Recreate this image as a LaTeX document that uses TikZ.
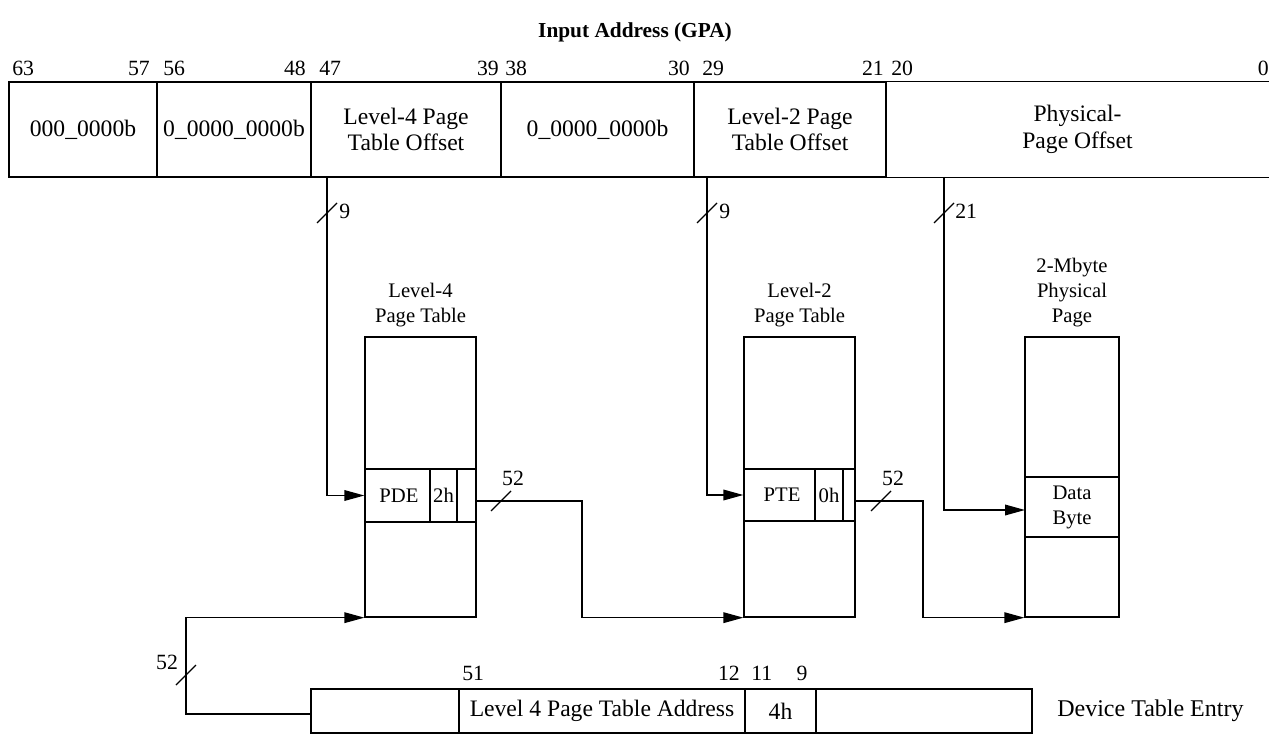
\documentclass[tikz,border=0pt]{standalone}
\usepackage{fontspec}
\setmainfont{Liberation Serif}
\usetikzlibrary{arrows.meta}
\newcommand\cellbox[7][]{%
  \pgfmathsetmacro\cbxx{(#3+#5)/2}\pgfmathsetmacro\cbxy{(#4+#6)/2}%
  \pgfmathsetmacro\cbxw{(#5-#3)*0.75}\pgfmathsetmacro\cbxh{(#6-#4)*0.75}%
  \node[cell,minimum width=\cbxw pt,minimum height=\cbxh pt,#1] (#2) at (\cbxx,\cbxy) {#7};%
}
\begin{document}
\begin{tikzpicture}[x=0.75pt,y=-0.75pt,
  plain/.style={line width=1pt},
  conn/.style={line width=1pt,-{Triangle[length=15pt,width=8pt]}},
  cell/.style={draw,line width=1pt,inner sep=0pt,align=center},
  big/.style={font=\fontsize{17.7}{20}\selectfont},
  mid/.style={font=\fontsize{15.5}{18.75}\selectfont},
  bitn/.style={font=\fontsize{16.3}{19}\selectfont,inner sep=0pt},
  lbl/.style={inner sep=0pt,align=center}]
\useasboundingbox (0,0) rectangle (1269,734);

% title
\node[lbl,font=\fontsize{16}{19}\selectfont\bfseries] (title) at (635,32) {Input Address (GPA)};

% top bar
\cellbox[big]{c1}{9}{82}{157}{177}{000\_0000b}
\cellbox[big]{c2}{157}{82}{311}{177}{0\_0000\_0000b}
\cellbox[big]{c3}{311}{82}{501}{177}{Level-4 Page\\Table Offset}
\cellbox[big]{c4}{501}{82}{694}{177}{0\_0000\_0000b}
\cellbox[big]{c5}{694}{82}{886}{177}{Level-2 Page\\Table Offset}
\cellbox[big,draw=none]{c6}{886}{82}{1269}{177}{Physical-\\Page Offset}
\draw[plain] (c6.north west) -- (c6.north east) (c6.south west) -- (c6.south east);

% bit numbers
\node[bitn,anchor=west] (b63) at (12,68) {63};
\node[bitn,anchor=east] (b57) at (150,68) {57};
\node[bitn,anchor=west] (b56) at (163,68) {56};
\node[bitn,anchor=east] (b48) at (306,68) {48};
\node[bitn,anchor=west] (b47) at (319,68) {47};
\node[bitn,anchor=east] (b39) at (499,68) {39};
\node[bitn,anchor=west] (b38) at (505,68) {38};
\node[bitn,anchor=east] (b30) at (690,68) {30};
\node[bitn,anchor=west] (b29) at (702,68) {29};
\node[bitn,anchor=east] (b21) at (884,68) {21};
\node[bitn,anchor=west] (b20) at (891,68) {20};
\node[bitn,anchor=east] (b0) at (1269,68) {0};

% level-4 table
\node[lbl,mid] (l4t) at (420.5,305) {Level-4\\Page Table};
\cellbox{l4}{365}{337}{476}{617}{}
\cellbox{pde}{365}{469}{476}{522}{}
\draw[plain] (430,469) -- (430,522) (457,469) -- (457,522);
\node[lbl,mid] (pdet) at (399,495.5) {PDE};
\node[lbl,mid] (pdeh) at (443.5,495.5) {2h};

% level-2 table
\node[lbl,mid] (l2t) at (799.5,305) {Level-2\\Page Table};
\cellbox{l2}{744}{337}{855}{617}{}
\cellbox{pte}{744}{469}{855}{521}{}
\draw[plain] (815,469) -- (815,521) (843,469) -- (843,521);
\node[lbl,mid] (ptet) at (782,495) {PTE};
\node[lbl,mid] (pteh) at (829,495) {0h};

% physical page
\node[lbl,mid] (ppt) at (1072,293) {2-Mbyte\\Physical\\Page};
\cellbox{pp}{1025}{337}{1119}{617}{}
\cellbox[mid]{db}{1025}{477}{1119}{537}{Data\\Byte}

% device table entry
\cellbox{d1}{311}{689}{459}{733}{}
\cellbox[big]{d2}{459}{689}{745}{733}{Level 4 Page Table Address}
\cellbox[big]{d3}{745}{689}{816}{733}{4h}
\cellbox{d4}{816}{689}{1032}{733}{}
\node[lbl,font=\fontsize{18}{21}\selectfont,anchor=west] (dte) at (1057,711) {Device Table Entry};
\node[bitn,anchor=west] (n51) at (462,673) {51};
\node[bitn,anchor=east] (n12) at (740,673) {12};
\node[bitn,anchor=west] (n11) at (751,673) {11};
\node[bitn] (n9) at (802,673) {9};

% connector coordinates
\coordinate (s4) at (327,177);
\coordinate (s2) at (707,177);
\coordinate (sp) at (944,177);
\coordinate (o4) at (476,501);
\coordinate (o2) at (855,501);
\coordinate (k4) at (582,501);
\coordinate (k2) at (923,501);
\coordinate (dl) at (311,714);
\coordinate (kd) at (186,714);

% connectors
\draw[conn] (s4) |- (pde.west);
\draw[conn] (s2) |- (pte.west);
\draw[conn] (sp) |- (1025,510);
\draw[conn] (o4) -- (k4) |- (l2.south west);
\draw[conn] (o2) -- (k2) |- (pp.south west);
\draw[conn] (dl) -- (kd) |- (l4.south west);

% slashes and widths
\coordinate (m1) at (327,213);
\coordinate (m2) at (707,213);
\coordinate (m3) at (944,213);
\coordinate (m4) at (501,501);
\coordinate (m5) at (881,501);
\coordinate (m6) at (186,675);
\foreach \m in {m1,m2,m3,m4,m5,m6}
  \draw[plain] (\m) ++(-10,10) -- ++(20,-20);
\node[bitn,anchor=west] (w1) at (339,211) {9};
\node[bitn,anchor=west] (w2) at (719,211) {9};
\node[bitn,anchor=west] (w3) at (955,211) {21};
\node[bitn] (w4) at (513,478) {52};
\node[bitn] (w5) at (893,478) {52};
\node[bitn] (w6) at (167,662) {52};
\end{tikzpicture}
\end{document}
